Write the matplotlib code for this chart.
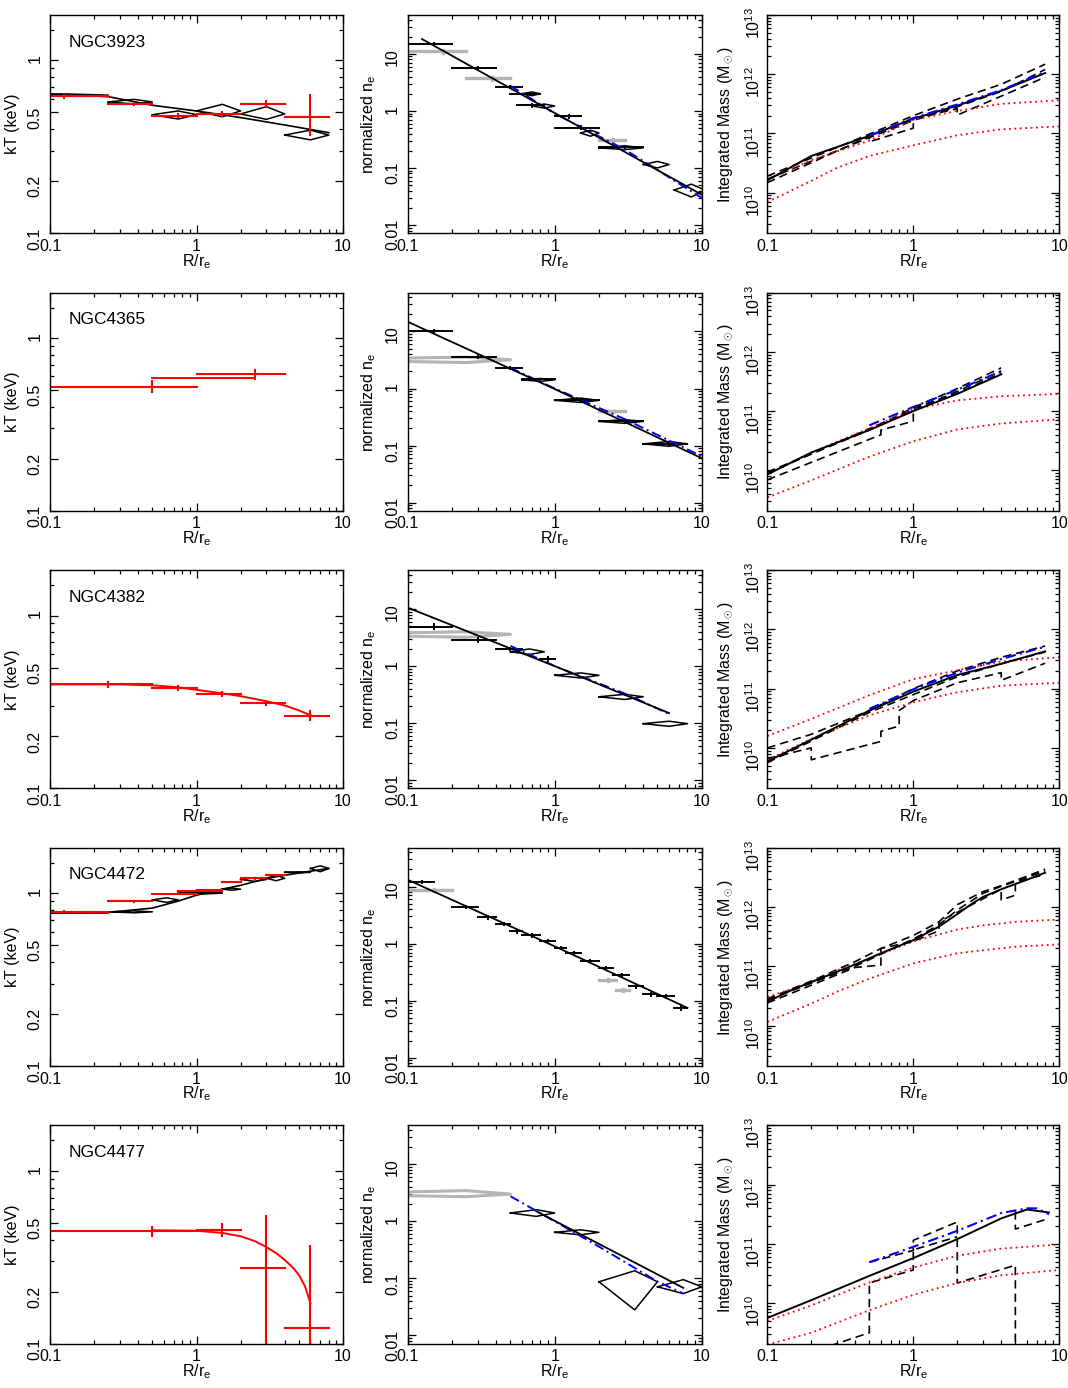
import matplotlib
matplotlib.use('Agg')

import numpy as np
import matplotlib.pyplot as plt
from matplotlib.ticker import FixedLocator, FixedFormatter, LogLocator, NullFormatter, LogFormatterSciNotation

plt.rcParams['font.family'] = ['Liberation Sans', 'DejaVu Sans']
plt.rcParams['mathtext.fontset'] = 'custom'
plt.rcParams['mathtext.rm'] = 'Liberation Sans'
plt.rcParams['mathtext.it'] = 'Liberation Sans:italic'
plt.rcParams['font.size'] = 11.5
plt.rcParams['axes.labelsize'] = 11.5

galaxies = ['NGC3923', 'NGC4365', 'NGC4382', 'NGC4472', 'NGC4477']

# ---------------- NGC3923 ----------------
# projected kT: (r_lo, r_hi, kT, err-, err+)
kt_proj_3923 = [(0, 0.25, 0.62, 0.012, 0.012), (0.25, 0.5, 0.56, 0.01, 0.01),
                (0.5, 1.0, 0.48, 0.012, 0.012), (1.0, 2.0, 0.49, 0.012, 0.012),
                (2.0, 4.0, 0.56, 0.025, 0.025), (4.0, 8.0, 0.47, 0.10, 0.16)]
# deprojected kT diamonds: (r_lo, r_hi, kT_lo, kT_mid, kT_hi)
kt_deproj_3923 = [(0, 0.25, 0.62, 0.63, 0.64), (0.25, 0.5, 0.56, 0.575, 0.595),
                  (0.5, 1.0, 0.458, 0.485, 0.51), (1.0, 2.0, 0.472, 0.51, 0.557),
                  (2.0, 4.0, 0.456, 0.49, 0.54), (4.0, 8.0, 0.347, 0.37, 0.395)]
kt_fit_r_3923 = [0.1, 0.25, 0.5, 1, 2, 4, 8]
kt_fit_3923 = [0.636, 0.617, 0.55, 0.51, 0.467, 0.423, 0.382]
kt_fitred_r_3923 = []
kt_fitred_3923 = []
# density: bars (r_lo, r_hi, n, err), diamonds (r_lo, r_hi, n_lo, n_mid, n_hi)
ne_black_3923 = [(0.1, 0.2, 14.8, 0.6), (0.2, 0.4, 5.6, 0.3), (0.4, 0.6, 2.6, 0.1),
                 (0.5, 0.8, 2.0, 0.08), (0.55, 0.85, 1.25, 0.06), (1.0, 1.5, 0.8, 0.04),
                 (1.0, 2.0, 0.51, 0.03), (2.0, 4.0, 0.23, 0.01)]
ne_gray_3923 = [(0.1, 0.25, 11.0, 0.5), (0.25, 0.5, 3.7, 0.2), (2.0, 3.0, 0.31, 0.01)]
ne_graydiam_3923 = []
ne_diam_3923 = [(0.6, 0.8, 1.85, 2.0, 2.15), (0.7, 1.0, 1.12, 1.22, 1.32),
                (1.5, 2.0, 0.36, 0.41, 0.46), (2.0, 4.0, 0.21, 0.225, 0.245),
                (4.0, 6.0, 0.1, 0.115, 0.13), (6.5, 10.5, 0.031, 0.041, 0.052)]
ne_fit_r_3923 = [0.125, 1.0, 10.0]
ne_fit_3923 = [18.2, 0.92, 0.034]
ne_blue_r_3923 = [0.5, 1.0, 3.0, 10.0]
ne_blue_3923 = [2.75, 0.9, 0.21, 0.03]
# mass, log10(M/Msun)
m_solid_r_3923 = [0.1, 0.2, 0.5, 1, 2, 4, 8]
m_solid_3923 = [10.21, 10.62, 10.96, 11.25, 11.47, 11.72, 12.02]
m_blue_r_3923 = [0.5, 1, 2, 4, 8]
m_blue_3923 = [10.96, 11.26, 11.49, 11.73, 12.04]
m_dash_3923 = [([0.1, 0.5, 1.0, 2.0, 4.0, 8.0], [10.28, 10.99, 11.3, 11.58, 11.83, 12.17]),
               ([0.1, 0.5, 0.5, 1.0, 1.0, 2.0, 2.0, 8.0], [10.17, 10.95, 10.86, 11.09, 11.25, 11.42, 11.31, 11.95]),
               ([0.1, 0.5, 1.0, 2.0, 4.0, 8.0], [10.23, 10.93, 11.22, 11.45, 11.71, 12.08])]
m_redhi_r_3923 = [0.1, 0.2, 0.5, 1, 2, 4, 10]
m_redhi_3923 = [10.21, 10.55, 10.88, 11.23, 11.38, 11.5, 11.56]
m_redlo_r_3923 = [0.1, 0.2, 0.3, 0.5, 1, 2, 4, 10]
m_redlo_3923 = [9.84, 10.2, 10.42, 10.62, 10.8, 10.97, 11.07, 11.12]

# ---------------- NGC4365 ----------------
kt_proj_4365 = [(0, 1.0, 0.524, 0.038, 0.043), (1.0, 4.0, 0.622, 0.039, 0.034)]
kt_deproj_4365 = []
kt_fit_r_4365 = []
kt_fit_4365 = []
kt_fitred_r_4365 = [0.5, 2.5]
kt_fitred_4365 = [0.585, 0.585]
ne_black_4365 = [(0.1, 0.2, 10.0, 0.4), (0.2, 0.4, 3.6, 0.2), (0.4, 0.6, 2.3, 0.1),
                 (0.6, 1.0, 1.44, 0.05), (1.0, 2.0, 0.62, 0.03), (2.0, 4.0, 0.265, 0.01),
                 (4.0, 8.0, 0.107, 0.005)]
ne_gray_4365 = [(2.0, 3.0, 0.4, 0.01)]
ne_graydiam_4365 = [(0, 0.5, 2.85, 3.2, 3.55)]
ne_diam_4365 = [(0.6, 1.0, 1.33, 1.42, 1.5), (1.0, 2.0, 0.57, 0.62, 0.68),
                (2.0, 4.0, 0.245, 0.265, 0.285), (4.0, 8.0, 0.097, 0.107, 0.118)]
ne_fit_r_4365 = [0.1, 1.0, 10.0]
ne_fit_4365 = [14.8, 0.98, 0.06]
ne_blue_r_4365 = [0.5, 1.0, 3.0, 10.0]
ne_blue_4365 = [2.3, 1.0, 0.29, 0.065]
m_solid_r_4365 = [0.1, 0.2, 0.5, 1, 2, 4]
m_solid_4365 = [9.93, 10.3, 10.68, 11.0, 11.29, 11.62]
m_blue_r_4365 = [0.5, 1, 2, 4]
m_blue_4365 = [10.76, 11.07, 11.36, 11.67]
m_dash_4365 = [([0.1, 0.5, 1.0, 2.0, 4.0], [9.97, 10.68, 11.06, 11.38, 11.73]),
               ([0.1, 0.6, 0.6, 1.0, 1.0, 2.0, 4.0], [9.84, 10.6, 10.68, 10.83, 11.05, 11.3, 11.64]),
               ([0.1, 0.4, 1.0, 2.0, 4.0], [9.95, 10.6, 11.02, 11.33, 11.68])]
m_redhi_r_4365 = [0.1, 0.2, 0.5, 1, 2, 4, 10]
m_redhi_4365 = [9.93, 10.3, 10.71, 11.03, 11.18, 11.25, 11.29]
m_redlo_r_4365 = [0.1, 0.2, 0.5, 1, 2, 4, 10]
m_redlo_4365 = [9.54, 9.83, 10.23, 10.49, 10.69, 10.79, 10.86]

# ---------------- NGC4382 ----------------
kt_proj_4382 = [(0, 0.5, 0.40, 0.012, 0.012), (0.5, 1.0, 0.381, 0.01, 0.01),
                (1.0, 2.0, 0.352, 0.01, 0.01), (2.0, 4.0, 0.312, 0.008, 0.008),
                (4.0, 8.0, 0.262, 0.012, 0.018)]
kt_deproj_4382 = []
kt_fit_r_4382 = []
kt_fit_4382 = []
kt_fitred_r_4382 = [0.1, 0.3, 0.5, 0.75, 1, 1.5, 2, 3, 4, 5, 6]
kt_fitred_4382 = [0.40, 0.40, 0.395, 0.385, 0.372, 0.355, 0.342, 0.32, 0.302, 0.283, 0.265]
ne_black_4382 = [(0.1, 0.2, 4.9, 0.5), (0.2, 0.4, 2.85, 0.25), (0.4, 0.6, 2.0, 0.1),
                 (0.8, 1.0, 1.32, 0.1)]
ne_gray_4382 = []
ne_graydiam_4382 = [(0, 0.5, 3.2, 3.6, 4.0)]
ne_diam_4382 = [(0.5, 0.85, 1.6, 1.78, 2.0), (1.0, 2.0, 0.62, 0.69, 0.76),
                (2.0, 4.0, 0.26, 0.29, 0.32), (4.0, 8.0, 0.088, 0.098, 0.108)]
ne_fit_r_4382 = [0.1, 1.0, 6.0]
ne_fit_4382 = [10.6, 1.0, 0.15]
ne_blue_r_4382 = [0.5, 1.0, 3.0, 6.0]
ne_blue_4382 = [2.26, 1.0, 0.33, 0.145]
m_solid_r_4382 = [0.1, 0.2, 0.5, 1, 2, 4, 8]
m_solid_4382 = [9.77, 10.14, 10.63, 10.95, 11.23, 11.42, 11.63]
m_blue_r_4382 = [0.5, 1, 2, 4, 8]
m_blue_4382 = [10.66, 10.99, 11.27, 11.5, 11.71]
m_dash_4382 = [([0.1, 0.2, 0.5, 1.0, 2.0, 4.0, 8.0], [10.0, 10.23, 10.63, 11.0, 11.3, 11.53, 11.72]),
               ([0.1, 0.2, 0.2, 0.6, 0.6, 0.8, 0.8, 1.0, 2.0, 4.0, 4.0, 8.0],
                [9.82, 10.0, 9.8, 10.11, 10.28, 10.37, 10.63, 10.8, 11.1, 11.27, 11.14, 11.43]),
               ([0.1, 0.5, 1.0, 2.0, 4.0, 8.0], [9.75, 10.6, 10.9, 11.2, 11.42, 11.62])]
m_redhi_r_4382 = [0.1, 0.2, 0.5, 1, 2, 4, 10]
m_redhi_4382 = [10.2, 10.49, 10.89, 11.16, 11.31, 11.46, 11.53]
m_redlo_r_4382 = [0.1, 0.2, 0.5, 1, 2, 4, 10]
m_redlo_4382 = [9.8, 10.15, 10.55, 10.77, 10.94, 11.05, 11.1]

# ---------------- NGC4472 ----------------
kt_proj_4472 = [(0, 0.25, 0.78, 0.005, 0.005), (0.25, 0.5, 0.90, 0.005, 0.005),
                (0.5, 1.0, 0.995, 0.005, 0.005), (0.75, 1.5, 1.03, 0.005, 0.005),
                (1.0, 1.5, 1.045, 0.005, 0.005), (1.5, 2.0, 1.16, 0.005, 0.005),
                (2.0, 3.0, 1.22, 0.005, 0.005), (3.0, 4.0, 1.27, 0.005, 0.005)]
kt_deproj_4472 = [(0, 0.25, 0.765, 0.772, 0.78), (0.25, 0.5, 0.77, 0.78, 0.79),
                  (0.5, 0.75, 0.884, 0.915, 0.94), (0.75, 1.5, 0.99, 1.0, 1.01),
                  (1.5, 2.0, 1.04, 1.055, 1.07), (2.0, 3.0, 1.17, 1.2, 1.23),
                  (3.0, 4.0, 1.18, 1.22, 1.27), (4.0, 6.0, 1.31, 1.32, 1.33),
                  (6.0, 8.0, 1.33, 1.39, 1.44)]
kt_fit_r_4472 = [0.1, 0.25, 0.5, 0.75, 1, 1.5, 2, 3, 4, 6, 8]
kt_fit_4472 = [0.767, 0.774, 0.82, 0.9, 0.974, 1.055, 1.11, 1.215, 1.27, 1.34, 1.39]
kt_fitred_r_4472 = []
kt_fitred_4472 = []
ne_black_4472 = [(0.1, 0.15, 12.0, 0.6), (0.2, 0.3, 4.4, 0.2), (0.3, 0.4, 2.9, 0.15),
                 (0.4, 0.5, 2.2, 0.1), (0.5, 0.6, 1.65, 0.08), (0.6, 0.8, 1.4, 0.07),
                 (0.8, 1.0, 1.1, 0.05), (1.0, 1.2, 0.85, 0.04), (1.2, 1.5, 0.69, 0.03),
                 (1.5, 2.0, 0.5, 0.02), (2.0, 2.5, 0.37, 0.015), (2.5, 3.2, 0.28, 0.012),
                 (3.2, 4.0, 0.18, 0.01), (4.0, 5.0, 0.13, 0.008), (5.0, 6.5, 0.12, 0.008),
                 (6.5, 8.0, 0.075, 0.005)]
ne_gray_4472 = [(0.1, 0.2, 8.8, 0.3), (2.0, 2.6, 0.23, 0.01), (2.6, 3.2, 0.155, 0.008)]
ne_graydiam_4472 = []
ne_diam_4472 = []
ne_fit_r_4472 = [0.1, 1.0, 8.0]
ne_fit_4472 = [13.2, 0.9, 0.075]
ne_blue_r_4472 = []
ne_blue_4472 = []
m_solid_r_4472 = [0.1, 0.15, 0.4, 0.6, 1, 1.5, 2, 2.5, 3, 4, 6, 8]
m_solid_4472 = [10.4, 10.61, 11.03, 11.22, 11.44, 11.67, 11.88, 12.05, 12.17, 12.3, 12.46, 12.58]
m_blue_r_4472 = []
m_blue_4472 = []
m_dash_4472 = [([0.1, 0.2, 0.4, 0.6, 1.0, 1.5, 2.0, 3.0, 4.0, 6.0, 8.0],
                [10.45, 10.75, 11.08, 11.3, 11.52, 11.75, 12.04, 12.26, 12.36, 12.52, 12.64]),
               ([0.1, 0.4, 0.6, 0.6, 1.0, 1.5, 1.5, 4.0, 4.0, 5.0, 5.0, 8.0],
                [10.38, 10.98, 11.02, 11.3, 11.42, 11.6, 11.75, 12.3, 12.12, 12.2, 12.42, 12.55]),
               ([0.1, 0.4, 1.0, 1.5, 2.0, 3.0, 4.0, 6.0, 8.0],
                [10.43, 11.0, 11.46, 11.7, 11.95, 12.23, 12.35, 12.5, 12.61])]
m_redhi_r_4472 = [0.1, 0.2, 0.3, 0.5, 1, 2, 3, 5, 10]
m_redhi_4472 = [10.48, 10.73, 10.93, 11.13, 11.42, 11.62, 11.69, 11.75, 11.79]
m_redlo_r_4472 = [0.1, 0.2, 0.3, 0.5, 1, 2, 3, 5, 10]
m_redlo_4472 = [10.06, 10.37, 10.57, 10.79, 11.05, 11.22, 11.27, 11.33, 11.37]

# ---------------- NGC4477 ----------------
kt_proj_4477 = [(0, 1.0, 0.45, 0.03, 0.02), (1.0, 2.0, 0.455, 0.035, 0.036),
                (2.0, 4.0, 0.275, 0.205, 0.274), (4.0, 8.0, 0.123, 0.07, 0.245)]
kt_deproj_4477 = []
kt_fit_r_4477 = []
kt_fit_4477 = []
kt_fitred_r_4477 = [0.5, 1, 1.5, 2, 2.5, 3, 3.5, 4, 4.5, 5, 5.5, 6]
kt_fitred_4477 = [0.453, 0.45, 0.437, 0.418, 0.392, 0.362, 0.334, 0.305, 0.278, 0.25, 0.215, 0.171]
ne_black_4477 = []
ne_gray_4477 = []
ne_graydiam_4477 = [(0, 0.5, 2.7, 3.0, 3.45)]
ne_diam_4477 = [(0.5, 1.0, 1.22, 1.4, 1.6), (1.0, 2.0, 0.58, 0.64, 0.71),
                (2.0, 5.0, 0.028, 0.087, 0.136), (5.0, 10.0, 0.054, 0.071, 0.095)]
ne_fit_r_4477 = [0.75, 7.5]
ne_fit_4477 = [1.5, 0.068]
ne_blue_r_4477 = [0.5, 1.0, 2.0, 5.0, 7.5]
ne_blue_4477 = [2.75, 1.0, 0.36, 0.088, 0.054]
m_solid_r_4477 = [0.1, 0.2, 0.5, 1, 2, 4, 6, 8.5]
m_solid_4477 = [9.75, 10.05, 10.46, 10.76, 11.08, 11.43, 11.58, 11.53]
m_blue_r_4477 = [0.5, 1, 2, 4, 6, 7, 8.5]
m_blue_4477 = [10.69, 10.95, 11.22, 11.52, 11.6, 11.6, 11.5]
m_dash_4477 = [([0.5, 1.0, 1.0, 2.0, 2.0, 5.0, 5.0], [10.69, 10.89, 11.06, 11.37, 10.34, 10.64, 9.0]),
               ([0.27, 0.5, 0.5, 1.0, 1.0, 2.0], [9.28, 9.5, 10.34, 10.56, 10.9, 11.12]),
               ([5.0, 5.0, 8.5], [11.55, 11.25, 11.43])]
m_redhi_r_4477 = [0.1, 0.2, 0.5, 1, 2, 4, 10]
m_redhi_4477 = [9.7, 9.96, 10.35, 10.6, 10.8, 10.92, 10.99]
m_redlo_r_4477 = [0.1, 0.2, 0.5, 1, 2, 4, 10]
m_redlo_4477 = [9.3, 9.5, 9.88, 10.14, 10.34, 10.47, 10.56]

kt_proj = [kt_proj_3923, kt_proj_4365, kt_proj_4382, kt_proj_4472, kt_proj_4477]
kt_deproj = [kt_deproj_3923, kt_deproj_4365, kt_deproj_4382, kt_deproj_4472, kt_deproj_4477]
kt_fit = [(kt_fit_r_3923, kt_fit_3923), (kt_fit_r_4365, kt_fit_4365), (kt_fit_r_4382, kt_fit_4382),
          (kt_fit_r_4472, kt_fit_4472), (kt_fit_r_4477, kt_fit_4477)]
kt_fitred = [(kt_fitred_r_3923, kt_fitred_3923), (kt_fitred_r_4365, kt_fitred_4365),
             (kt_fitred_r_4382, kt_fitred_4382), (kt_fitred_r_4472, kt_fitred_4472),
             (kt_fitred_r_4477, kt_fitred_4477)]
ne_black = [ne_black_3923, ne_black_4365, ne_black_4382, ne_black_4472, ne_black_4477]
ne_gray = [ne_gray_3923, ne_gray_4365, ne_gray_4382, ne_gray_4472, ne_gray_4477]
ne_graydiam = [ne_graydiam_3923, ne_graydiam_4365, ne_graydiam_4382, ne_graydiam_4472, ne_graydiam_4477]
ne_diam = [ne_diam_3923, ne_diam_4365, ne_diam_4382, ne_diam_4472, ne_diam_4477]
ne_fit = [(ne_fit_r_3923, ne_fit_3923), (ne_fit_r_4365, ne_fit_4365), (ne_fit_r_4382, ne_fit_4382),
          (ne_fit_r_4472, ne_fit_4472), (ne_fit_r_4477, ne_fit_4477)]
ne_blue = [(ne_blue_r_3923, ne_blue_3923), (ne_blue_r_4365, ne_blue_4365), (ne_blue_r_4382, ne_blue_4382),
           (ne_blue_r_4472, ne_blue_4472), (ne_blue_r_4477, ne_blue_4477)]
m_solid = [(m_solid_r_3923, m_solid_3923), (m_solid_r_4365, m_solid_4365), (m_solid_r_4382, m_solid_4382),
           (m_solid_r_4472, m_solid_4472), (m_solid_r_4477, m_solid_4477)]
m_blue = [(m_blue_r_3923, m_blue_3923), (m_blue_r_4365, m_blue_4365), (m_blue_r_4382, m_blue_4382),
          (m_blue_r_4472, m_blue_4472), (m_blue_r_4477, m_blue_4477)]
m_dash = [m_dash_3923, m_dash_4365, m_dash_4382, m_dash_4472, m_dash_4477]
m_redhi = [(m_redhi_r_3923, m_redhi_3923), (m_redhi_r_4365, m_redhi_4365), (m_redhi_r_4382, m_redhi_4382),
           (m_redhi_r_4472, m_redhi_4472), (m_redhi_r_4477, m_redhi_4477)]
m_redlo = [(m_redlo_r_3923, m_redlo_3923), (m_redlo_r_4365, m_redlo_4365), (m_redlo_r_4382, m_redlo_4382),
           (m_redlo_r_4472, m_redlo_4472), (m_redlo_r_4477, m_redlo_4477)]

X_FLOOR = 0.02   # where a bin that starts at r=0 is drawn from on the log axis


def cross(ax, lo, hi, y, em, ep, **kw):
    xc = 0.5 * (lo + hi)
    ax.plot([max(lo, X_FLOOR), hi], [y, y], **kw)
    ax.plot([xc, xc], [y - em, y + ep], **kw)


def diamond(ax, lo, hi, ylo, ymid, yhi, **kw):
    xc = 0.5 * (lo + hi)
    x0 = max(lo, X_FLOOR)
    ax.plot([x0, xc, hi, xc, x0], [ymid, yhi, ymid, ylo, ymid], **kw)


def style_axes(ax, ypad):
    ax.set_xscale('log')
    ax.set_yscale('log')
    ax.set_xlim(0.1, 10)
    ax.xaxis.set_major_locator(FixedLocator([0.1, 1, 10]))
    ax.xaxis.set_major_formatter(FixedFormatter(['0.1', '1', '10']))
    ax.xaxis.set_minor_locator(LogLocator(base=10, subs=np.arange(2, 10)))
    ax.xaxis.set_minor_formatter(NullFormatter())
    ax.tick_params(which='both', direction='in', top=True, right=True, width=0.9)
    ax.tick_params(which='major', length=6)
    ax.tick_params(which='minor', length=3)
    ax.tick_params(axis='y', labelrotation=90, pad=ypad)
    ax.tick_params(axis='x', pad=4)
    for s in ax.spines.values():
        s.set_linewidth(1.0)
    ax.set_xlabel(r'R/r$_\mathrm{e}$')
    ax.xaxis.set_label_coords(0.5, -0.085)


fig = plt.figure(figsize=(10.68, 13.88), dpi=100)
W, H = 1068.0, 1388.0
col_left = [50, 407.7, 767.3]
col_w = [293, 294, 292]
ax_h = 218.3

for i, name in enumerate(galaxies):
    top = 15 + 277.6 * i
    axs = [fig.add_axes([col_left[j] / W, 1 - (top + ax_h) / H, col_w[j] / W, ax_h / H]) for j in range(3)]

    # ---- temperature ----
    ax = axs[0]
    style_axes(ax, 5.5)
    ax.set_ylim(0.1, 1.83)
    ax.yaxis.set_major_locator(FixedLocator([0.1, 0.2, 0.5, 1]))
    ax.yaxis.set_major_formatter(FixedFormatter(['0.1', '0.2', '0.5', '1']))
    ax.yaxis.set_minor_locator(FixedLocator([0.3, 0.4, 0.6, 0.7, 0.8, 0.9, 1.5]))
    ax.yaxis.set_minor_formatter(NullFormatter())
    for d in kt_deproj[i]:
        diamond(ax, *d, color='black', lw=1.1)
    if kt_fit[i][0]:
        ax.plot(kt_fit[i][0], kt_fit[i][1], color='black', lw=1.2)
    for c in kt_proj[i]:
        cross(ax, *c, color='red', lw=1.5)
    if kt_fitred[i][0]:
        ax.plot(kt_fitred[i][0], kt_fitred[i][1], color='red', lw=1.4)
    ax.text(0.065, 0.876, name, transform=ax.transAxes, fontsize=12.5, va='center', ha='left')
    ax.set_ylabel('kT (keV)')
    ax.yaxis.set_label_coords(-0.103, 0.5)

    # ---- density ----
    ax = axs[1]
    style_axes(ax, 5.5)
    ax.set_ylim(0.00715, 48)
    ax.yaxis.set_major_locator(FixedLocator([0.01, 0.1, 1, 10]))
    ax.yaxis.set_major_formatter(FixedFormatter(['0.01', '0.1', '1', '10']))
    ax.yaxis.set_minor_locator(LogLocator(base=10, subs=np.arange(2, 10)))
    ax.yaxis.set_minor_formatter(NullFormatter())
    for g in ne_gray[i]:
        cross(ax, g[0], g[1], g[2], g[3], g[3], color='#b4b4b4', lw=2.4)
    for g in ne_graydiam[i]:
        diamond(ax, *g, color='#b4b4b4', lw=2.2)
    for b in ne_black[i]:
        cross(ax, b[0], b[1], b[2], b[3], b[3], color='black', lw=1.4)
    for d in ne_diam[i]:
        diamond(ax, *d, color='black', lw=1.1)
    if ne_blue[i][0]:
        ax.plot(ne_blue[i][0], ne_blue[i][1], color='blue', lw=1.4, ls=(0, (5, 2, 1, 2)))
    ax.plot(ne_fit[i][0], ne_fit[i][1], color='black', lw=1.3)
    ax.set_ylabel(r'normalized n$_\mathrm{e}$')
    ax.yaxis.set_label_coords(-0.1, 0.5)

    # ---- mass ----
    ax = axs[2]
    style_axes(ax, 3)
    ax.set_ylim(10 ** 9.315, 1e13)
    ax.yaxis.set_major_locator(FixedLocator([1e10, 1e11, 1e12, 1e13]))
    ax.yaxis.set_major_formatter(LogFormatterSciNotation())
    ax.yaxis.set_minor_locator(LogLocator(base=10, subs=np.arange(2, 10)))
    ax.yaxis.set_minor_formatter(NullFormatter())
    for r, m in m_dash[i]:
        ax.plot(r, 10 ** np.array(m), color='black', lw=1.2, ls=(0, (5, 3)))
    ax.plot(m_redhi[i][0], 10 ** np.array(m_redhi[i][1]), color='red', lw=1.3, ls=(0, (1, 2)))
    ax.plot(m_redlo[i][0], 10 ** np.array(m_redlo[i][1]), color='red', lw=1.3, ls=(0, (1, 2)))
    ax.plot(m_solid[i][0], 10 ** np.array(m_solid[i][1]), color='black', lw=1.4)
    if m_blue[i][0]:
        ax.plot(m_blue[i][0], 10 ** np.array(m_blue[i][1]), color='blue', lw=1.5, ls=(0, (5, 2, 1, 2)))
    ax.set_ylabel(r'Integrated Mass (M$_\odot$)')
    ax.yaxis.set_label_coords(-0.11, 0.5)

fig.savefig('out.png', dpi=100, facecolor='white')
